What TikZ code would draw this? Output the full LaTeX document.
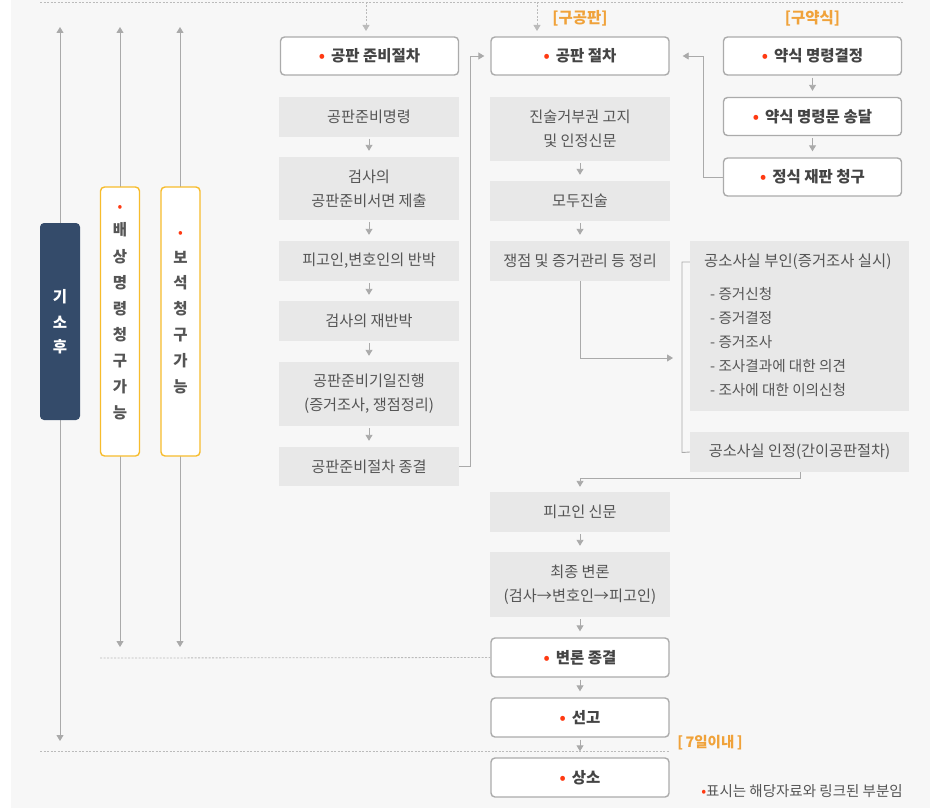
\documentclass[tikz,border=0pt]{standalone}
\usepackage{fontspec}
\setmainfont{Noto Sans CJK KR}
\usetikzlibrary{arrows.meta}
\definecolor{bgc}{HTML}{F7F7F7}
\definecolor{gfill}{HTML}{E8E8E8}
\definecolor{graytxt}{HTML}{555555}
\definecolor{darktxt}{HTML}{444444}
\definecolor{wborder}{HTML}{ABABAB}
\definecolor{lnc}{HTML}{AAAAAA}
\definecolor{dashc}{HTML}{BBBBBB}
\definecolor{dotred}{HTML}{FF3A12}
\definecolor{orangec}{HTML}{F0A23A}
\definecolor{yborder}{HTML}{F7BC2C}
\definecolor{navy}{HTML}{344B6A}
\newcommand\rdot{\textcolor{dotred}{•}}
\tikzset{
  wbox/.style={draw=wborder, line width=1.4pt, fill=white, rounded corners=4pt,
    minimum width=178pt, minimum height=38pt, inner sep=0pt,
    font=\fontsize{15.5}{18}\selectfont\bfseries, text=darktxt},
  gbox/.style={fill=gfill, minimum width=180pt, minimum height=40pt, inner sep=0pt,
    font=\fontsize{15.2}{24}\selectfont, text=graytxt, align=center},
  arr/.style={draw=lnc, line width=0.9pt, -{Triangle[width=7pt,length=6pt]}},
  dline/.style={draw=dashc, line width=0.8pt, dash pattern=on 2pt off 1.5pt},
  vbox/.style={draw=yborder, line width=1.4pt, fill=white, rounded corners=4pt,
    minimum width=39pt, minimum height=269pt, inner sep=0pt},
  vch/.style={font=\fontsize{15.5}{15.5}\selectfont\bfseries, text=graytxt, inner sep=0pt},
  olabel/.style={font=\fontsize{15.5}{15.5}\selectfont\bfseries, text=orangec, inner sep=0pt},
  ltxt/.style={font=\fontsize{15.4}{15.4}\selectfont, text=graytxt, inner sep=0pt, anchor=west},
  litem/.style={font=\fontsize{14.6}{14.6}\selectfont, text=graytxt, inner sep=0pt, anchor=west}
}
\begin{document}
\begin{tikzpicture}[x=1pt,y=-1pt]
\useasboundingbox (0,0) rectangle (941,808);
\fill[bgc] (11,0) rectangle (930,808);

% top dashed line and dashed entry arrows
\coordinate (tl) at (40,2);
\coordinate (tr) at (903,2);
\draw[dline] (tl) -- (tr);
\coordinate (ina) at (366,2);
\coordinate (inaend) at (366,31);
\coordinate (inb) at (537,2);
\coordinate (inbend) at (537,31);
\draw[dline, -{Triangle[width=7pt,length=6pt]}] (ina) -- (inaend);
\draw[dline, -{Triangle[width=7pt,length=6pt]}] (inb) -- (inbend);

% left vertical double arrows
\coordinate (v1a) at (60,27);  \coordinate (v1b) at (60,741);
\coordinate (v2a) at (120,27); \coordinate (v2b) at (120,647);
\coordinate (v3a) at (180,27); \coordinate (v3b) at (180,647);
\draw[draw=lnc, line width=0.9pt, {Triangle[width=7pt,length=6pt]}-{Triangle[width=7pt,length=6pt]}] (v1a) -- (v1b);
\draw[draw=lnc, line width=0.9pt, {Triangle[width=7pt,length=6pt]}-{Triangle[width=7pt,length=6pt]}] (v2a) -- (v2b);
\draw[draw=lnc, line width=0.9pt, {Triangle[width=7pt,length=6pt]}-{Triangle[width=7pt,length=6pt]}] (v3a) -- (v3b);

% vertical boxes
\node[fill=navy, rounded corners=4pt, minimum width=40pt, minimum height=197pt, inner sep=0pt] (gisohu) at (60,321.5) {};
\foreach \ch/\yy [count=\i] in {기/297,소/322,후/347}
  \node[font=\fontsize{15.5}{15.5}\selectfont\bfseries, text=white, inner sep=0pt] (gs\i) at (60,\yy) {\ch};
\node[vbox] (baesang) at (120,321.5) {};
\node[inner sep=0pt, font=\fontsize{14}{14}\selectfont] (bsdot) at (120,208) {\rdot};
\foreach \ch/\yy [count=\i] in {배/230,상/257,명/283,령/309,청/335,구/361,가/387,능/413}
  \node[vch] (bs\i) at (120,\yy) {\ch};
\node[vbox] (boseok) at (180.5,321.5) {};
\node[inner sep=0pt, font=\fontsize{14}{14}\selectfont] (bodot) at (180.5,234) {\rdot};
\foreach \ch/\yy [count=\i] in {보/257,석/283,청/309,구/335,가/361,능/387}
  \node[vch] (bo\i) at (180.5,\yy) {\ch};

% labels
\node[olabel] (lab1) at (580,18) {[구공판]};
\node[olabel] (lab2) at (812.5,18) {[구약식]};

% left column
\node[wbox] (prep) at (369.5,56) {\rdot\hspace{6pt}공판 준비절차};
\node[gbox] (p1) at (369,116.5) {공판준비명령};
\node[gbox, minimum height=63pt] (p2) at (369,188.5) {검사의\\공판준비서면 제출};
\node[gbox] (p3) at (369,261) {피고인,변호인의 반박};
\node[gbox] (p4) at (369,321) {검사의 재반박};
\node[gbox, minimum height=64pt] (p5) at (369,394) {공판준비기일진행\\(증거조사, 쟁점정리)};
\node[gbox, minimum height=39pt] (p6) at (369,466.5) {공판준비절차 종결};

% right (summary) column
\node[wbox] (s1) at (812.5,56) {\rdot\hspace{6pt}약식 명령결정};
\node[wbox] (s2) at (812.5,116.5) {\rdot\hspace{6pt}약식 명령문 송달};
\node[wbox] (s3) at (812.5,177) {\rdot\hspace{6pt}정식 재판 청구};

% middle column
\node[wbox] (trial) at (580,56) {\rdot\hspace{6pt}공판 절차};
\node[gbox, minimum height=64pt] (t1) at (580,129) {진술거부권 고지\\및 인정신문};
\node[gbox] (t2) at (580,201) {모두진술};
\node[gbox] (t3) at (580,261) {쟁점 및 증거관리 등 정리};
\node[gbox, minimum width=219pt, minimum height=170pt] (deny) at (799.5,326) {};
\node[ltxt] (denyt) at (704,262) {공소사실 부인(증거조사 실시)};
\node[litem] (d1) at (710,294) {- 증거신청};
\node[litem] (d2) at (710,318) {- 증거결정};
\node[litem] (d3) at (710,342) {- 증거조사};
\node[litem] (d4) at (710,366) {- 조사결과에 대한 의견};
\node[litem] (d5) at (710,390) {- 조사에 대한 이의신청};
\node[gbox, minimum width=219pt] (admit) at (799.5,452) {공소사실 인정(간이공판절차)};
\node[gbox] (t4) at (580,512) {피고인 신문};
\node[gbox, minimum height=65pt] (t5) at (580,584.5) {최종 변론\\(검사→변호인→피고인)};
\node[wbox, minimum height=39pt] (close) at (580,657.5) {\rdot\hspace{6pt}변론 종결};
\node[wbox, minimum height=39pt] (verdict) at (580,717.5) {\rdot\hspace{6pt}선고};
\node[wbox, minimum height=39pt] (appeal) at (580,777.5) {\rdot\hspace{6pt}상소};

% short arrows
\foreach \a/\b in {p1/p2,p2/p3,p3/p4,p4/p5,p5/p6,t1/t2,t2/t3,t4/t5,t5/close,close/verdict,verdict/appeal,s1/s2,s2/s3}
  \draw[arr] ([yshift=-2pt]\a.south) -- ([yshift=6pt]\b.north);

% preparation end -> trial
\coordinate (pj) at (470,466.5);
\draw[arr] (p6.east) -- (pj) |- ([xshift=-6pt]trial.west);
% formal trial request -> trial
\coordinate (sj) at (703,177);
\draw[arr] (s3.west) -- (sj) |- ([xshift=13pt]trial.east);
% issues -> deny
\coordinate (ij) at (580,358);
\coordinate (ie) at (673,358);
\draw[arr] (t3.south) -- (ij) -- (ie);
% bracket
\coordinate (bk1) at (682,262);
\coordinate (bk2) at (682,452.5);
\draw[draw=lnc, line width=0.9pt] (deny.west |- bk1) -- (bk1) -- (bk2) -- (admit.west);
% admit -> defendant questioning
\coordinate (aj1) at (800,478);
\coordinate (aj2) at (580,478);
\draw[arr] (admit.south -| aj1) -- (aj1) -- (aj2) -- ([yshift=5pt]t4.north);

% horizontal dotted lines
\coordinate (h1) at (100,658);
\draw[dline] (h1) -- (close.west);
\coordinate (h2a) at (40,751);
\coordinate (h2b) at (669,751);
\draw[dline] (h2a) -- (h2b);

% side notes
\node[olabel, font=\fontsize{14.5}{14.5}\selectfont\bfseries] (seven) at (710,743) {[\,7일이내\,]};
\node[inner sep=0pt, font=\fontsize{14.5}{14.5}\selectfont, text=graytxt] (note) at (802,791) {\rdot 표시는 해당자료와 링크된 부분임};
\end{tikzpicture}
\end{document}
